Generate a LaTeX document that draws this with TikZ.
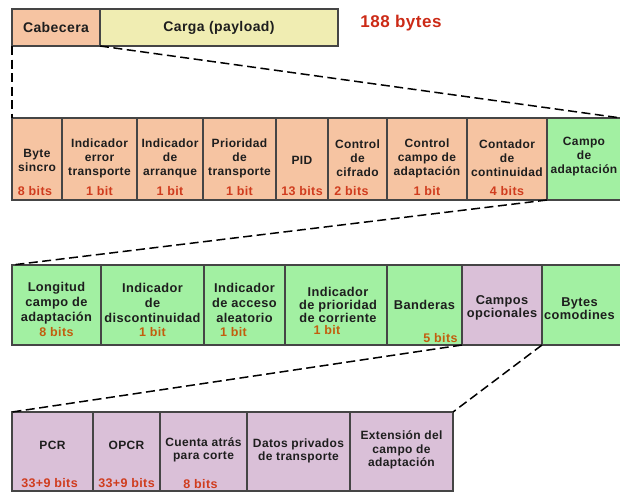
\documentclass[tikz,border=0pt]{standalone}
\usepackage{fontspec}
\setmainfont{Liberation Sans}[LetterSpace=3]

\definecolor{hdrfill}{HTML}{F6C4A2}
\definecolor{payfill}{HTML}{F0EDB2}
\definecolor{adpfill}{HTML}{A2F0A2}
\definecolor{optfill}{HTML}{DAC0D8}
\definecolor{cellborder}{HTML}{454545}
\definecolor{labeltext}{HTML}{1E1E1E}
\definecolor{bitsred}{HTML}{D03C1E}
\definecolor{bitsbrown}{HTML}{C25E0E}
\definecolor{sizered}{HTML}{CC2A16}

% field box from (x1,y1) to (x2,y2): name, style, x1, y1, x2, y2
\newcommand\fld[6]{\node[#2, minimum width={#5pt-#3pt}, minimum height={#6pt-#4pt}] (#1) at (#3,#4) {};}

\begin{document}
\begin{tikzpicture}[x=1pt,y=-1pt,
  field/.style={draw=cellborder, line width=1.1pt, anchor=north west,
                inner sep=0pt, outer sep=0pt, rectangle},
  hdr/.style={field, fill=hdrfill},
  pay/.style={field, fill=payfill},
  adp/.style={field, fill=adpfill},
  opt/.style={field, fill=optfill},
  txt/.style={inner sep=0pt, align=center, text=labeltext},
  top/.style={txt, font=\fontsize{14}{15}\selectfont\bfseries},
  lbltwo/.style={txt, font=\fontsize{12}{14}\selectfont\bfseries},
  lbltight/.style={txt, font=\fontsize{12.8}{12.8}\selectfont\bfseries},
  lblthree/.style={txt, font=\fontsize{12.8}{14.8}\selectfont\bfseries},
  lblfour/.style={txt, font=\fontsize{12}{13.5}\selectfont\bfseries},
  bitstwo/.style={txt, font=\fontsize{12.5}{13}\selectfont\bfseries, text=bitsred},
  bitsthree/.style={txt, font=\fontsize{12.5}{13}\selectfont\bfseries, text=bitsbrown},
  bitsfour/.style={txt, font=\fontsize{12.5}{13}\selectfont\bfseries, text=bitsred},
  link/.style={draw=black, line width=1.5pt, dash pattern=on 9pt off 4.5pt}
]
\useasboundingbox (0,0) rectangle (620,493);
\clip (0,0) rectangle (620,493);

% ---- transport packet ----
\fld{hdr}{hdr}{12}{9}{100}{46}
\fld{pay}{pay}{100}{9}{338}{46}
\node[top] (hdrL) at (hdr.center) {Cabecera};
\node[top] (payL) at (pay.center) {Carga (payload)};
\node[txt, font=\fontsize{17}{19}\selectfont\bfseries, text=sizered] (size) at (401,23) {188 bytes};

% ---- header fields ----
\fld{sync}{hdr}{12}{118}{62}{200}
\fld{tei}{hdr}{62}{118}{137}{200}
\fld{pusi}{hdr}{137}{118}{203}{200}
\fld{prio}{hdr}{203}{118}{276}{200}
\fld{pid}{hdr}{276}{118}{328}{200}
\fld{tsc}{hdr}{328}{118}{387}{200}
\fld{afc}{hdr}{387}{118}{467}{200}
\fld{cc}{hdr}{467}{118}{547}{200}
\fld{adapt}{adp}{547}{118}{621}{200}

\node[lbltwo] (syncL) at ([yshift=-42pt]sync.north) {Byte\\sincro};
\node[lbltwo] (teiL)  at ([yshift=-40pt]tei.north)  {Indicador\\error\\transporte};
\node[lbltwo] (pusiL) at ([yshift=-40pt]pusi.north) {Indicador\\de\\arranque};
\node[lbltwo] (prioL) at ([yshift=-40pt]prio.north) {Prioridad\\de\\transporte};
\node[lbltwo] (pidL)  at ([yshift=-42pt]pid.north)  {PID};
\node[lbltwo] (tscL)  at ([yshift=-40pt]tsc.north)  {Control\\de\\cifrado};
\node[lbltwo] (afcL)  at ([yshift=-40pt]afc.north)  {Control\\campo de\\adaptación};
\node[lbltwo] (ccL)   at ([yshift=-40pt]cc.north)   {Contador\\de\\continuidad};
\node[lbltwo] (adaptL) at ([yshift=-39pt]adapt.north) {Campo\\de\\adaptación};

\node[bitstwo] (syncB) at ([yshift=9pt,xshift=-2pt]sync.south) {8 bits};
\node[bitstwo] (teiB)  at ([yshift=9pt]tei.south)  {1 bit};
\node[bitstwo] (pusiB) at ([yshift=9pt]pusi.south) {1 bit};
\node[bitstwo] (prioB) at ([yshift=9pt]prio.south) {1 bit};
\node[bitstwo] (pidB)  at ([yshift=9pt]pid.south)  {13 bits};
\node[bitstwo] (tscB)  at ([yshift=9pt,xshift=-6pt]tsc.south)  {2 bits};
\node[bitstwo] (afcB)  at ([yshift=9pt]afc.south)  {1 bit};
\node[bitstwo] (ccB)   at ([yshift=9pt]cc.south)   {4 bits};

% ---- adaptation field ----
\fld{len}{adp}{12}{265}{101}{345}
\fld{disc}{adp}{101}{265}{204}{345}
\fld{rai}{adp}{204}{265}{285}{345}
\fld{espi}{adp}{285}{265}{387}{345}
\fld{flags}{adp}{387}{265}{462}{345}
\fld{opt}{opt}{462}{265}{542}{345}
\fld{stuff}{adp}{542}{265}{621}{345}

\node[lblthree] (lenL)  at ([yshift=-38pt]len.north)  {Longitud\\campo de\\adaptación};
\node[lblthree] (discL) at ([yshift=-38pt]disc.north) {Indicador\\de\\discontinuidad};
\node[lblthree] (raiL)  at ([yshift=-38pt]rai.north)  {Indicador\\de acceso\\aleatorio};
\node[lbltight] (espiL) at ([yshift=-40pt,xshift=2pt]espi.north) {Indicador\\de prioridad\\de corriente};
\node[lblthree] (flagsL) at ([yshift=-40pt]flags.north) {Banderas};
\node[lbltight] (optL)  at ([yshift=-43pt]opt.north)  {Campos\\opcionales};
\node[lbltight] (stuffL) at ([yshift=-44pt,xshift=-2pt]stuff.north) {Bytes\\comodines};

\node[bitsthree] (lenB)  at ([yshift=13pt]len.south)  {8 bits};
\node[bitsthree] (discB) at ([yshift=13pt]disc.south) {1 bit};
\node[bitsthree] (raiB)  at ([yshift=13pt,xshift=-11pt]rai.south)  {1 bit};
\node[bitsthree] (espiB) at ([yshift=15pt,xshift=-9pt]espi.south) {1 bit};
\node[bitsthree] (flagsB) at ([yshift=7pt,xshift=16pt]flags.south) {5 bits};

% ---- optional fields ----
\fld{pcr}{opt}{12}{412}{93}{491}
\fld{opcr}{opt}{93}{412}{160}{491}
\fld{splice}{opt}{160}{412}{247}{491}
\fld{priv}{opt}{247}{412}{350}{491}
\fld{ext}{opt}{350}{412}{453}{491}

\node[lblfour] (pcrL)    at ([yshift=-33pt]pcr.north)    {PCR};
\node[lblfour] (opcrL)   at ([yshift=-33pt]opcr.north)   {OPCR};
\node[lblfour] (spliceL) at ([yshift=-38pt]splice.north) {Cuenta atrás\\para corte};
\node[lblfour] (privL)   at ([yshift=-39pt]priv.north)   {Datos privados\\de transporte};
\node[lblfour] (extL)    at ([yshift=-38pt]ext.north)    {Extensión del\\campo de\\adaptación};

\node[bitsfour] (pcrB)    at ([yshift=8pt,xshift=-3pt]pcr.south)    {33+9 bits};
\node[bitsfour] (opcrB)   at ([yshift=8pt]opcr.south)   {33+9 bits};
\node[bitsfour] (spliceB) at ([yshift=7pt,xshift=-3pt]splice.south) {8 bits};

% ---- expansion guides ----
\draw[link] (hdr.south west) -- (sync.north west);
\draw[link] (hdr.south east) -- (adapt.north east);
\draw[link] (adapt.south west) -- (len.north west);
\draw[link] (opt.south west) -- (pcr.north west);
\draw[link] (opt.south east) -- (ext.north east);
\end{tikzpicture}
\end{document}
